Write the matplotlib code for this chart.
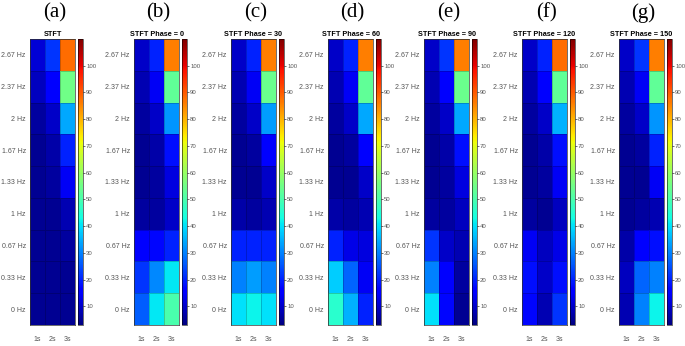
import numpy as np
import matplotlib
matplotlib.use('Agg')
import matplotlib.pyplot as plt

# 频率标签 (从上到下) 和时间标签
freqs = ['2.67 Hz', '2.37 Hz', '2 Hz', '1.67 Hz', '1.33 Hz', '1 Hz', '0.67 Hz', '0.33 Hz', '0 Hz']
times = ['1s', '2s', '3s']
letters = ['(a)', '(b)', '(c)', '(d)', '(e)', '(f)', '(g)']
titles = ['STFT', 'STFT Phase = 0', 'STFT Phase = 30', 'STFT Phase = 60',
          'STFT Phase = 90', 'STFT Phase = 120', 'STFT Phase = 150']

# 每行: [1s, 2s, 3s], 从 2.67 Hz 到 0 Hz
stft = [[11, 22, 88], [9, 15, 55], [6, 10, 34], [5, 7, 20], [5, 6, 14],
        [5, 5, 8], [5, 5, 6], [5, 5, 5], [5, 5, 5]]
ph0 = [[10, 20, 86], [8, 14, 53], [6, 10, 32], [5, 7, 18], [5, 6, 12],
       [6, 6, 10], [16, 17, 20], [22, 31, 41], [26, 41, 50]]
ph30 = [[10, 20, 86], [8, 14, 54], [6, 10, 33], [5, 6, 15], [5, 5, 10],
        [7, 6, 8], [20, 20, 20], [30, 33, 30], [40, 42, 40]]
ph60 = [[10, 20, 86], [8, 14, 53], [6, 10, 34], [5, 6, 15], [5, 5, 10],
        [7, 6, 8], [20, 13, 12], [38, 27, 14], [46, 35, 20]]
ph90 = [[10, 22, 86], [8, 15, 54], [6, 10, 34], [5, 7, 18], [5, 6, 12],
        [6, 6, 9], [22, 10, 8], [30, 15, 6], [40, 17, 5]]
ph120 = [[10, 20, 88], [8, 15, 53], [6, 10, 35], [5, 7, 18], [5, 6, 14],
         [6, 5, 9], [14, 9, 13], [18, 10, 18], [17, 8, 22]]
ph150 = [[10, 22, 86], [8, 14, 53], [6, 10, 32], [5, 6, 20], [5, 5, 14],
         [5, 6, 8], [7, 15, 18], [9, 27, 30], [8, 30, 42]]
panels = [stft, ph0, ph30, ph60, ph90, ph120, ph150]

W, H = 685, 346
fig = plt.figure(figsize=(W / 100, H / 100), dpi=100)

lefts = [30, 134, 231, 328, 424, 522, 619]   # 像素位置
top, bot = 39, 325
hw, cw = 45, 5
grey = '#555555'

for k in range(7):
    x0 = lefts[k]
    ax = fig.add_axes([x0 / W, (H - bot) / H, hw / W, (bot - top) / H])
    data = np.array(panels[k], dtype=float)
    m = ax.pcolormesh(np.arange(4) + 0.5, np.arange(10) + 0.5, data, cmap='jet',
                      vmin=3, vmax=110, edgecolors=(0, 0, 0, 0.2), linewidth=0.4)
    ax.set_xlim(0.5, 3.5)
    ax.set_ylim(9.5, 0.5)
    ax.set_xticks([1, 2, 3])
    ax.set_xticklabels(times, fontsize=5.0, color=grey, family='Liberation Sans')
    ax.set_yticks(range(1, 10))
    ax.set_yticklabels(freqs, fontsize=5.0, color=grey, family='Liberation Sans')
    ax.tick_params(axis='y', length=0, pad=3)
    ax.tick_params(axis='x', length=0, pad=8)
    for s in ax.spines.values():
        s.set_linewidth(0.5)
        s.set_color('#333333')
    ax.set_title(titles[k], fontsize=5.2, fontweight='bold', family='Liberation Sans', pad=2.5)

    cax = fig.add_axes([(x0 + hw + 3) / W, (H - bot) / H, cw / W, (bot - top) / H])
    cb = fig.colorbar(m, cax=cax)
    cb.set_ticks(range(10, 101, 10))
    cb.ax.tick_params(labelsize=4.3, labelcolor=grey, length=1.2, width=0.4, pad=1)
    for t in cb.ax.get_yticklabels():
        t.set_family('Liberation Sans')
    cb.outline.set_linewidth(0.4)

    fig.text((x0 + hw / 2 + 2) / W, 1 - 13 / H, letters[k], fontsize=15,
             family='Liberation Serif', ha='center', va='center')

plt.savefig('out.png', dpi=100)
